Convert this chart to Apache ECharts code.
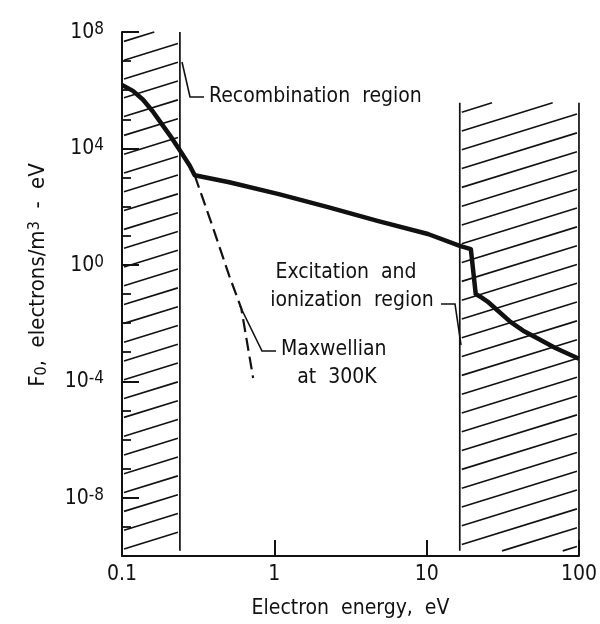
<!DOCTYPE html>
<html><head><meta charset="utf-8">
<script src="https://cdn.jsdelivr.net/npm/echarts@6/dist/echarts.min.js"></script>
<style>html,body{margin:0;padding:0;background:#fff}#c{width:600px;height:624px}</style>
</head><body><div id="c"></div>
<script>
const FONT = '"DejaVu Sans Condensed","Liberation Sans Narrow","DejaVu Sans",sans-serif';

// Axis ranges / ticks
const energyMin = 0.1, energyMax = 100;
const fMin = 1e-10, fMax = 1e8;
const fMajorTicks = [1e-8, 1e-4, 1, 1e4, 1e8];

// Measured distribution (solid)
const solidE = [0.1, 0.118, 0.137, 0.159, 0.185, 0.212, 0.239, 0.278, 0.30, 0.506, 1.07, 2.28, 4.82, 10.2, 16.5, 19.5, 21.0, 23.0, 25.1, 29.5, 35.5, 43.0, 53.3, 70.0, 100];
const solidF = [1.5e6, 9.5e5, 4.8e5, 1.9e5, 6.2e4, 2.3e4, 8.8e3, 2.6e3, 1.2e3, 690, 270, 95, 32, 11.5, 4.5, 3.5, 0.1, 0.075, 0.055, 0.026, 0.011, 0.0055, 0.003, 0.0014, 6e-4];

// Maxwellian at 300 K (dashed)
const maxwE = [0.30, 0.393, 0.506, 0.607, 0.726];
const maxwF = [1.2e3, 21, 0.42, 0.032, 1.3e-4];

// Hatched regions: [E from, E to, F top, F bottom]
const recombRegion = [0.1, 0.24, 1e8, 1.5e-10];
const excitRegion = [16.5, 100, 3.7e5, 1.5e-10];

const INK = '#111';
const chart = echarts.init(document.getElementById('c'), null, {renderer: 'canvas'});

function renderHatch(params, api) {
  const a = api.coord([api.value(0), api.value(2)]);
  const b = api.coord([api.value(1), api.value(3)]);
  const x0 = a[0], x1 = b[0], yt = a[1], yb = b[1];
  const w = x1 - x0, s = 0.31, gap = 18.8;
  const children = [];
  for (let c = yt + 10; c < yb + s * w; c += gap) {
    let xs = x0 + 2, ys = c - 2 * s, xe = x1 - 2, ye = c - s * (w - 2);
    if (ys > yb) { xs = x0 + (c - yb) / s; ys = yb; }
    if (ye < yt) { xe = x0 + (c - yt) / s; ye = yt; }
    if (xe - xs < 3) continue;
    children.push({type: 'line', shape: {x1: xs, y1: ys, x2: xe, y2: ye},
      style: {stroke: INK, lineWidth: 1.6}});
  }
  children.push({type: 'line', shape: {x1: x0, y1: yt, x2: x0, y2: yb}, style: {stroke: INK, lineWidth: 1.7}});
  children.push({type: 'line', shape: {x1: x1, y1: yt, x2: x1, y2: yb}, style: {stroke: INK, lineWidth: 1.7}});
  return {type: 'group', children};
}

function expLabel(v) {
  const e = Math.round(Math.log10(v));
  if (e % 4 !== 0) return '';
  return '{b|10}{s|' + e + '}';
}

const txt = {fontFamily: FONT, fill: INK, fontSize: 21};

chart.setOption({
  backgroundColor: '#fff',
  animation: false,
  grid: {left: 122, right: 18, top: 32, bottom: 67},
  xAxis: {
    type: 'log', logBase: 10, min: energyMin, max: energyMax, interval: 1,
    name: 'Electron  energy,  eV', nameLocation: 'middle', nameGap: 42,
    nameTextStyle: {fontFamily: FONT, fontSize: 21, color: INK},
    axisLine: {show: true, lineStyle: {color: INK, width: 2}},
    axisTick: {show: true, inside: true, length: 16, lineStyle: {color: INK, width: 2}},
    axisLabel: {fontFamily: FONT, fontSize: 21, color: INK, margin: 8,
      formatter: v => v < 1 ? v.toFixed(1) : String(Math.round(v))},
    splitLine: {show: false}, minorTick: {show: false}
  },
  yAxis: [{
    type: 'log', logBase: 10, min: fMin, max: fMax, interval: 1, splitNumber: 18,
    axisLine: {show: true, lineStyle: {color: INK, width: 2}},
    axisTick: {show: true, inside: true, length: 9, lineStyle: {color: INK, width: 1.8}},
    axisLabel: {fontFamily: FONT, color: INK, margin: 18, formatter: expLabel,
      rich: {
        b: {fontFamily: FONT, fontSize: 21, lineHeight: 22, verticalAlign: 'bottom', color: INK},
        s: {fontFamily: FONT, fontSize: 17, lineHeight: 17, padding: [0, 0, 12, 0], verticalAlign: 'top', color: INK}
      }},
    splitLine: {show: false}
  }, {
    type: 'log', logBase: 10, min: fMin, max: fMax, position: 'left', offset: 0,
    axisLine: {show: false},
    axisTick: {show: true, inside: true, length: 17, customValues: fMajorTicks, lineStyle: {color: INK, width: 2}},
    axisLabel: {show: false},
    splitLine: {show: false}
  }],
  series: [{
    type: 'custom', renderItem: renderHatch, silent: true, z: 1,
    encode: {x: [0, 1], y: [2, 3]},
    data: [recombRegion, excitRegion]
  }, {
    type: 'line', symbol: 'none', z: 4, silent: true,
    lineStyle: {color: INK, width: 4.5, join: 'round'},
    data: solidE.map((e, i) => [e, solidF[i]])
  }, {
    type: 'line', symbol: 'none', z: 3, silent: true,
    lineStyle: {color: INK, width: 2.2, type: [13, 6]},
    data: maxwE.map((e, i) => [e, maxwF[i]])
  }],
  graphic: [
    {type: 'text', x: 38, y: 275, rotation: Math.PI / 2,
      style: {text: '{n|F}{sub|0}{n|,  electrons/m}{sup|3}{n|  -  eV}', align: 'center', verticalAlign: 'middle',
        rich: {
          n: {fontFamily: FONT, fontSize: 22, lineHeight: 23, verticalAlign: 'middle', fill: INK},
          sub: {fontFamily: FONT, fontSize: 16, lineHeight: 16, padding: [14, 0, 0, 0], verticalAlign: 'bottom', fill: INK},
          sup: {fontFamily: FONT, fontSize: 16, lineHeight: 16, padding: [0, 0, 14, 0], verticalAlign: 'top', fill: INK}
        }}},
    {type: 'text', x: 209, y: 97, style: Object.assign({text: 'Recombination  region', align: 'left', verticalAlign: 'middle'}, txt)},
    {type: 'text', x: 346, y: 273, style: Object.assign({text: 'Excitation  and', align: 'center', verticalAlign: 'middle'}, txt)},
    {type: 'text', x: 352, y: 301, style: Object.assign({text: 'ionization  region', align: 'center', verticalAlign: 'middle'}, txt)},
    {type: 'text', x: 281, y: 350, style: Object.assign({text: 'Maxwellian', align: 'left', verticalAlign: 'middle'}, txt)},
    {type: 'text', x: 337, y: 378, style: Object.assign({text: 'at  300K', align: 'center', verticalAlign: 'middle'}, txt)},
    {type: 'polyline', shape: {points: [[182, 62], [190, 97], [204, 97]]}, style: {stroke: INK, lineWidth: 1.6, fill: null}},
    {type: 'polyline', shape: {points: [[441, 304], [455, 304], [461, 345]]}, style: {stroke: INK, lineWidth: 1.6, fill: null}},
    {type: 'polyline', shape: {points: [[240, 306], [262, 351], [276, 351]]}, style: {stroke: INK, lineWidth: 1.6, fill: null}}
  ]
});
</script></body></html>
